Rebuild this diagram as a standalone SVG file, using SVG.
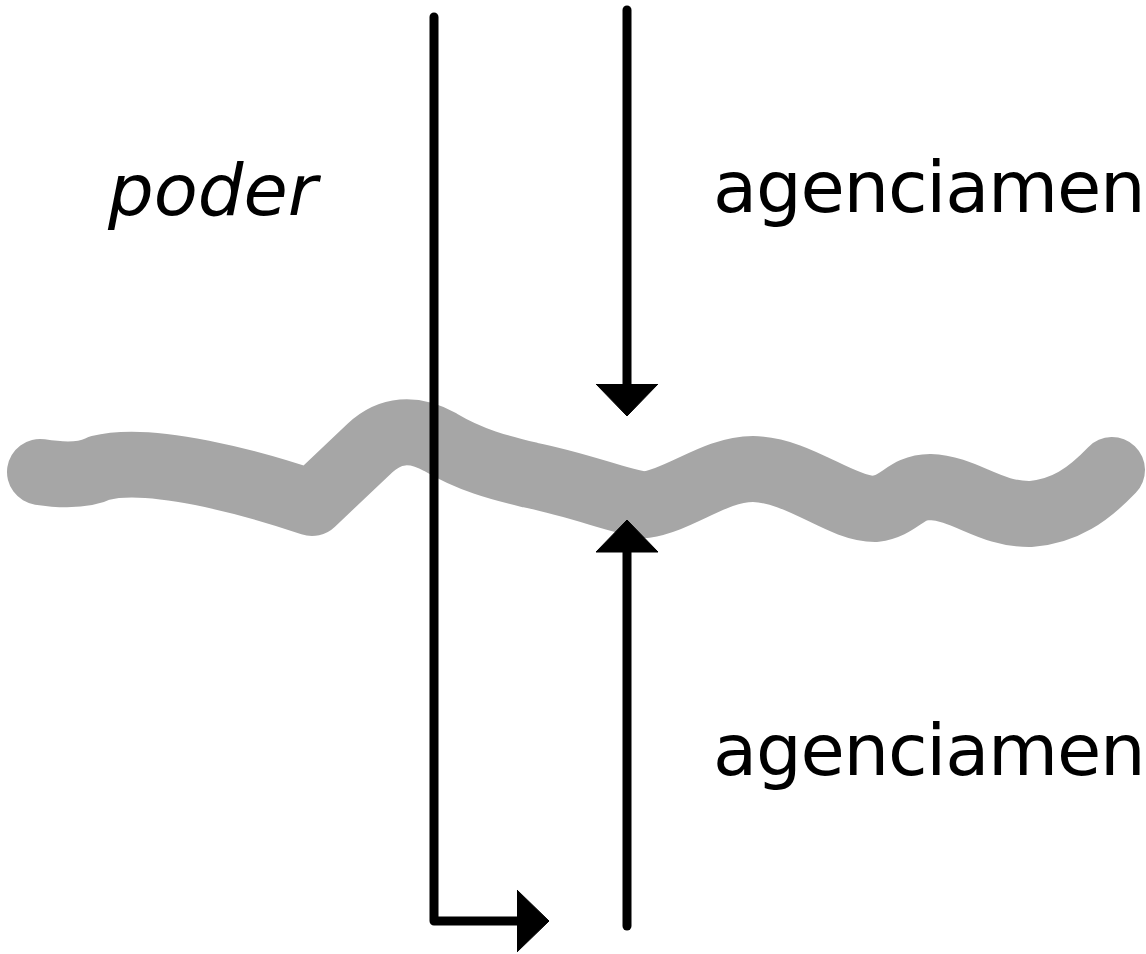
<svg xmlns="http://www.w3.org/2000/svg" width="1146" height="954" viewBox="0 0 1146 954">
<style>
.band{fill:none;stroke:#a6a6a6;stroke-width:66;stroke-linecap:round;stroke-linejoin:round}
.conn{fill:none;stroke:#000;stroke-width:9;stroke-linecap:round;stroke-linejoin:round}
.lbl{font-family:"DejaVu Sans","Verdana",sans-serif;font-size:72px;fill:#000}
.it{font-style:italic}
.ag{letter-spacing:-1.2px}
</style>
<defs>
<marker id="arr" markerUnits="userSpaceOnUse" markerWidth="34" markerHeight="64" viewBox="0 -1 33 64" refX="0" refY="31" orient="auto">
<path d="M0,0 L32,31 L0,62 Z" fill="#000" stroke="#000" stroke-width="1" stroke-linejoin="round"/>
</marker>
</defs>
<g id="surface">
<path class="band" d="M40 472 Q80 478 100 468 C150 455 250 482 312 503 L370 448 Q400 420 440 442 C470 460 500 468 530 475 C580 485 615 500 645 505 C680 500 715 469 753 469 C800 470 840 509 875 509 C900 506 905 487 930 487 C965 488 990 515 1031 514 C1065 511 1088 495 1112 470"/>
</g>
<g id="connectors">
<path class="conn" d="M434 17 V921 H517" marker-end="url(#arr)"/>
<path class="conn" d="M627 10 V384" marker-end="url(#arr)"/>
<path class="conn" d="M627 926 V552" marker-end="url(#arr)"/>
</g>
<g id="poder"><text class="lbl it" x="108" y="215">poder</text></g>
<g id="agenciamento-top"><text class="lbl ag" x="713" y="212">agenciamen</text></g>
<g id="agenciamento-bottom"><text class="lbl ag" x="713" y="775">agenciamen</text></g>
</svg>
